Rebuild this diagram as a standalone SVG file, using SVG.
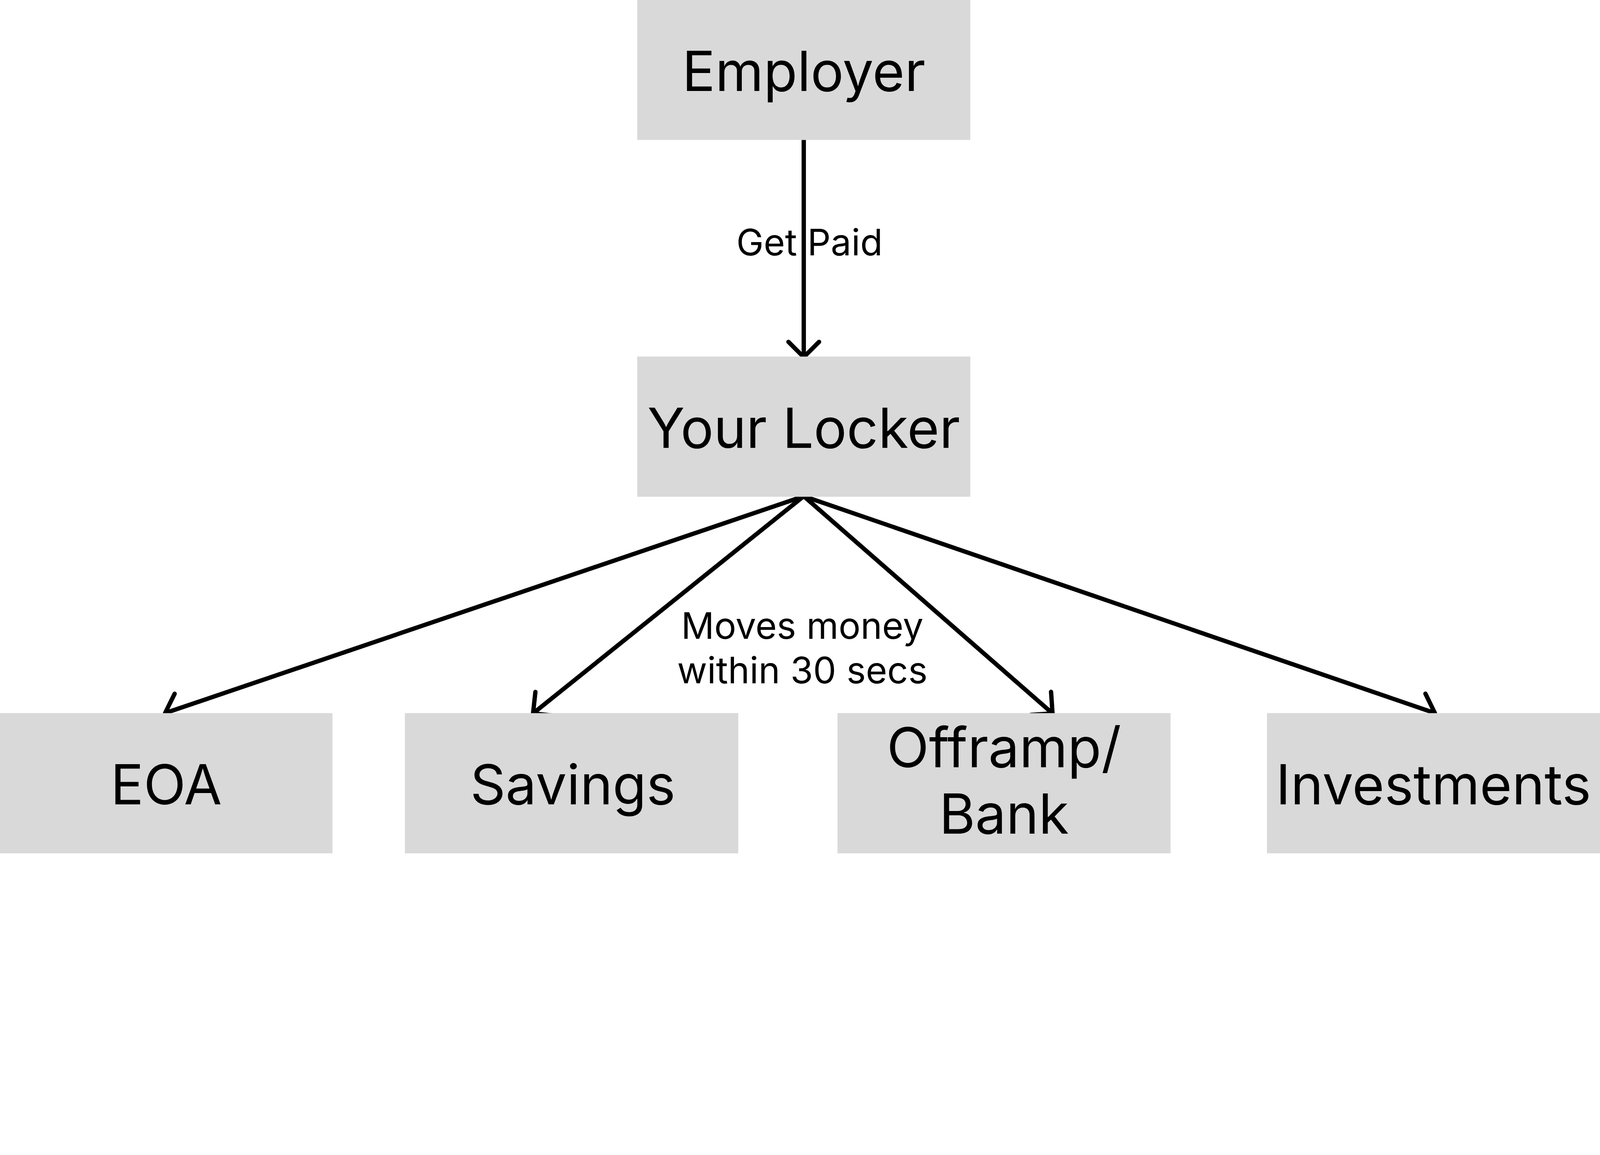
<svg xmlns="http://www.w3.org/2000/svg" width="5544" height="2958" viewBox="0 0 5544 2958" preserveAspectRatio="xMidYMin meet" style="max-width:100vw;max-height:100vh">
<style>
.box{fill:#d9d9d9}
.t{font-family:Inter,"Noto Sans","Liberation Sans",sans-serif;font-size:191px;fill:#000;text-anchor:middle}
.l{font-family:Inter,"Noto Sans","Liberation Sans",sans-serif;font-size:127px;fill:#000;text-anchor:middle}
.c{stroke:#000;stroke-width:15;fill:none;marker-end:url(#ah)}
</style>
<defs>
<marker id="ah" markerUnits="userSpaceOnUse" viewBox="-70 -70 80 140" refX="0" refY="0" markerWidth="80" markerHeight="140" orient="auto" overflow="visible">
<path d="M -53 -53 L 0 0 L -53 53" fill="none" stroke="#000" stroke-width="15" stroke-linecap="round" stroke-linejoin="round"/>
</marker>
</defs>
<rect width="5544" height="2958" fill="#fff"/>
<g id="connectors">
<line class="c" x1="2785" y1="485" x2="2785" y2="1238"/>
<line class="c" x1="2785" y1="1720" x2="572" y2="2472"/>
<line class="c" x1="2785" y1="1720" x2="1847" y2="2473"/>
<line class="c" x1="2785" y1="1720" x2="3647" y2="2473"/>
<line class="c" x1="2785" y1="1720" x2="4972" y2="2472"/>
<text class="l" x="2805" y="885">Get Paid</text>
<text class="l" x="2780" y="2214">Moves money</text>
<text class="l" x="2780" y="2369">within 30 secs</text>
</g>
<g id="employer">
<rect class="box" x="2208" y="0" width="1154" height="485"/>
<text class="t" x="2785" y="315">Employer</text>
</g>
<g id="your-locker">
<rect class="box" x="2208" y="1236" width="1154" height="486"/>
<text class="t" x="2785" y="1552">Your Locker</text>
</g>
<g id="eoa">
<rect class="box" x="0" y="2472" width="1152" height="486"/>
<text class="t" x="576" y="2788">EOA</text>
</g>
<g id="savings">
<rect class="box" x="1403" y="2472" width="1155" height="486"/>
<text class="t" x="1985" y="2788">Savings</text>
</g>
<g id="offramp-bank">
<rect class="box" x="2902" y="2472" width="1154" height="486"/>
<text class="t" x="3479" y="2659">Offramp/</text>
<text class="t" x="3479" y="2890">Bank</text>
</g>
<g id="investments">
<rect class="box" x="4390" y="2472" width="1154" height="486"/>
<text class="t" x="4967" y="2788">Investments</text>
</g>
</svg>
